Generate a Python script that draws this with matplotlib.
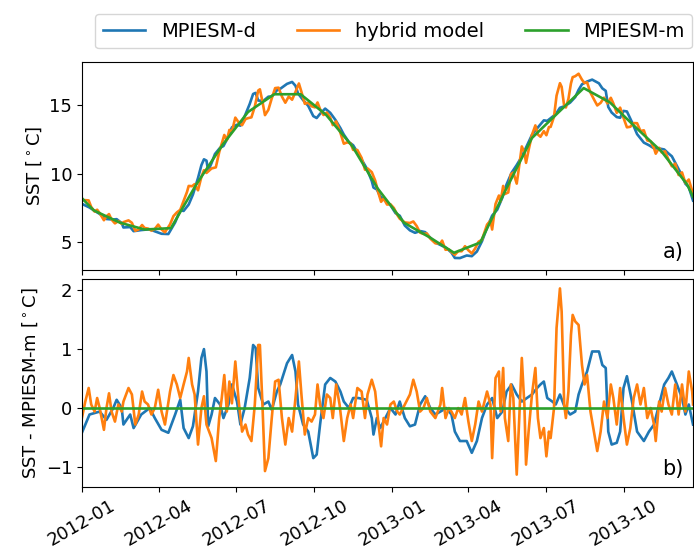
import matplotlib
matplotlib.use("Agg")
import matplotlib.pyplot as plt
import matplotlib.dates as mdates
import numpy as np

# days counted from 2012-01-01
start = np.datetime64("2012-01-01")

# MPIESM-m: monthly values (knots of the green line)
green_dates = ["2012-01-01", "2012-01-15", "2012-02-15", "2012-03-15", "2012-04-15",
               "2012-05-15", "2012-06-15", "2012-07-15", "2012-08-15", "2012-09-15",
               "2012-10-15", "2012-11-15", "2012-12-15", "2013-01-15", "2013-02-15",
               "2013-03-15", "2013-04-15", "2013-05-15", "2013-06-15", "2013-07-15",
               "2013-08-15", "2013-09-15", "2013-10-15", "2013-11-15", "2013-12-15",
               "2013-12-22"]
green_sst = [8.2, 7.3, 6.4, 5.9, 6.0, 9.2, 12.1, 14.5, 15.8, 15.8, 14.3, 12.0, 8.9,
             6.4, 5.3, 4.2, 4.95, 8.8, 12.6, 14.4, 16.25, 15.2, 13.4, 11.6, 9.2, 8.3]

# MPIESM-d
blue_days = [0, 9, 21, 29, 37, 41, 47, 49, 57, 61, 70, 80, 86, 94, 102, 110, 116, 120,
             126, 131, 137, 141, 144, 147, 149, 153, 157, 163, 167, 173, 177, 183, 187,
             192, 198, 202, 205, 208, 214, 220, 224, 230, 234, 242, 248, 252, 255, 261,
             267, 273, 277, 281, 287, 293, 299, 305, 309, 315, 320, 326, 336, 342, 344,
             348, 352, 358, 364, 370, 375, 381, 387, 393, 399, 405, 411, 417, 423, 430,
             436, 440, 446, 454, 460, 466, 472, 478, 484, 490, 496, 501, 507, 513, 519,
             525, 531, 537, 541, 545, 549, 555, 559, 564, 570, 576, 582, 586, 590, 596,
             602, 610, 614, 618, 621, 625, 631, 635, 639, 643, 649, 655, 663, 669, 675,
             681, 687, 692, 696, 702, 708, 712, 716, 721]
blue_sst = [7.78, 7.51, 7.04, 6.67, 6.63, 6.66, 6.37, 6.05, 6.08, 5.78, 5.86, 5.92, 5.77,
            5.59, 5.57, 6.42, 7.31, 7.26, 7.73, 8.46, 9.67, 10.61, 11.04, 10.94, 10.20,
            10.77, 11.43, 11.88, 12.01, 12.72, 13.38, 13.57, 13.50, 14.18, 15.09, 15.82,
            15.90, 15.34, 15.31, 15.62, 15.64, 16.08, 16.20, 16.56, 16.70, 16.42, 15.86,
            15.37, 14.95, 14.20, 14.06, 14.37, 14.75, 14.44, 13.93, 13.32, 12.85, 12.30,
            12.07, 11.45, 10.38, 9.45, 8.97, 8.83, 8.32, 8.00, 7.69, 7.10, 6.91, 6.19,
            5.84, 5.66, 5.79, 5.71, 5.30, 4.95, 4.77, 4.55, 4.21, 3.82, 3.81, 4.00, 3.95,
            4.29, 5.04, 6.04, 6.92, 7.35, 8.23, 9.20, 10.06, 10.62, 11.24, 12.03, 12.83,
            13.30, 13.60, 13.89, 13.85, 14.15, 14.34, 14.81, 14.94, 15.19, 15.59, 16.12,
            16.53, 16.73, 16.87, 16.60, 16.23, 16.05, 14.87, 14.46, 14.13, 14.08, 14.58,
            14.54, 13.75, 12.88, 12.26, 12.07, 11.84, 11.83, 11.76, 11.47, 11.26, 10.56,
            9.85, 9.25, 9.00, 8.02]
blue_anom = [-0.42, -0.11, -0.06, -0.20, 0.00, 0.14, 0.00, -0.28, -0.11, -0.34, -0.11,
             0.00, -0.17, -0.37, -0.42, -0.11, 0.14, -0.34, -0.51, -0.31, 0.28, 0.85, 1.00,
             0.62, -0.31, -0.11, 0.17, 0.06, -0.17, 0.06, 0.40, 0.11, -0.28, 0.00, 0.51,
             1.07, 1.02, 0.34, 0.06, 0.11, -0.03, 0.28, 0.40, 0.76, 0.90, 0.62, 0.06,
             -0.28, -0.40, -0.85, -0.79, -0.28, 0.40, 0.51, 0.45, 0.28, 0.11, 0.00, 0.17,
             0.17, 0.14, -0.17, -0.45, -0.17, -0.34, -0.17, 0.00, -0.11, 0.11, -0.17,
             -0.31, -0.28, 0.06, 0.20, 0.00, -0.11, -0.06, 0.00, -0.11, -0.40, -0.56,
             -0.56, -0.76, -0.56, -0.17, 0.06, 0.17, -0.17, -0.06, 0.28, 0.40, 0.23, 0.11,
             0.17, 0.23, 0.34, 0.40, 0.45, 0.17, 0.11, 0.06, 0.23, 0.00, -0.11, -0.06,
             0.23, 0.40, 0.62, 0.96, 0.96, 0.73, 0.68, -0.40, -0.62, -0.59, -0.40, 0.34,
             0.54, 0.11, -0.40, -0.56, -0.40, -0.28, 0.06, 0.40, 0.51, 0.62, 0.40, 0.17,
             -0.11, 0.06, -0.28]

# hybrid model
orange_days = [0, 4, 8, 11, 15, 18, 21, 26, 29, 32, 35, 39, 43, 47, 49, 55, 59, 63, 67,
               71, 74, 78, 82, 86, 90, 94, 98, 104, 108, 112, 116, 120, 124, 126, 130,
               133, 137, 141, 144, 147, 153, 158, 162, 165, 168, 171, 174, 177, 181, 185,
               189, 193, 196, 200, 204, 208, 210, 213, 216, 220, 224, 228, 232, 236, 240,
               244, 248, 252, 256, 259, 263, 267, 271, 275, 278, 281, 285, 289, 293, 296,
               300, 304, 309, 313, 317, 320, 325, 330, 334, 337, 342, 346, 350, 353, 356,
               360, 364, 368, 372, 375, 381, 387, 391, 395, 399, 403, 407, 411, 417, 423,
               425, 429, 433, 436, 440, 444, 448, 452, 456, 460, 464, 468, 472, 478, 482,
               484, 488, 492, 494, 497, 499, 503, 506, 509, 513, 516, 519, 522, 524, 527,
               531, 535, 538, 541, 545, 548, 551, 553, 557, 560, 564, 566, 569, 571, 574,
               577, 579, 582, 586, 590, 593, 596, 600, 604, 608, 612, 616, 620, 624, 627,
               631, 635, 639, 643, 647, 651, 655, 659, 663, 667, 671, 675, 677, 681, 684,
               688, 692, 696, 700, 704, 708, 712, 716, 720, 721]
orange_sst = [8.03, 8.05, 8.03, 7.55, 7.21, 7.35, 7.10, 6.58, 6.87, 7.03, 6.63, 6.35, 6.52,
              6.31, 6.44, 6.57, 6.39, 5.81, 5.91, 6.23, 6.01, 5.97, 5.82, 5.94, 6.26, 5.90,
              5.70, 6.28, 6.88, 7.15, 7.34, 8.00, 8.65, 9.09, 9.07, 9.22, 8.77, 9.76, 10.24,
              10.04, 10.37, 10.45, 11.56, 12.18, 12.82, 12.44, 13.19, 13.06, 14.09, 13.73,
              13.54, 13.98, 14.05, 14.11, 14.90, 16.07, 16.16, 15.27, 14.27, 14.66, 15.50,
              16.25, 16.28, 15.63, 15.18, 15.63, 15.40, 15.97, 16.59, 15.98, 15.10, 15.18,
              14.92, 14.84, 15.20, 14.71, 14.28, 14.46, 14.10, 13.54, 13.81, 13.17, 12.18,
              12.28, 12.21, 11.73, 11.72, 11.14, 10.28, 10.37, 10.10, 9.49, 8.54, 7.93,
              8.17, 7.73, 7.75, 7.48, 6.98, 6.69, 6.42, 6.38, 6.49, 6.15, 5.67, 5.58, 5.61,
              5.24, 4.89, 4.89, 5.09, 4.42, 4.44, 4.26, 4.05, 4.32, 4.31, 4.68, 4.38, 4.15,
              4.52, 5.01, 5.15, 6.26, 6.55, 5.90, 7.77, 8.39, 7.97, 9.09, 8.50, 8.61, 9.94,
              10.07, 9.26, 10.59, 11.98, 11.56, 10.78, 11.71, 12.83, 13.52, 12.85, 12.69,
              13.10, 12.80, 13.40, 13.41, 14.16, 15.70, 16.61, 16.34, 14.94, 14.83, 15.46,
              16.60, 17.05, 17.12, 17.30, 16.86, 16.62, 16.67, 15.92, 15.44, 14.98, 15.17,
              15.55, 15.13, 15.54, 15.13, 14.44, 14.82, 14.07, 13.38, 13.42, 13.69, 13.68,
              13.11, 13.16, 12.42, 12.35, 11.84, 11.45, 11.88, 11.54, 11.62, 11.02, 10.53,
              10.72, 9.89, 10.08, 9.30, 9.56, 8.71, 8.36]
orange_anom = [-0.17, 0.11, 0.34, 0.06, -0.06, 0.17, 0.00, -0.37, 0.00, 0.25, -0.06, -0.23,
               0.06, -0.06, 0.11, 0.34, 0.23, -0.28, -0.11, 0.28, 0.11, 0.06, -0.11, 0.00,
               0.31, -0.06, -0.28, 0.28, 0.56, 0.40, 0.17, 0.40, 0.62, 0.85, 0.40, 0.23,
               -0.62, 0.00, 0.20, -0.28, -0.51, -0.90, -0.17, 0.17, 0.56, -0.06, 0.45, 0.08,
               0.79, 0.11, -0.40, -0.28, -0.45, -0.56, 0.06, 1.07, 1.07, 0.06, -1.07, -0.85,
               -0.17, 0.45, 0.48, -0.17, -0.62, -0.17, -0.40, 0.17, 0.79, 0.23, -0.45, -0.17,
               -0.23, -0.11, 0.40, 0.06, -0.17, 0.23, 0.17, -0.17, 0.40, 0.06, -0.56, -0.17,
               0.06, -0.17, 0.34, 0.28, -0.17, 0.23, 0.48, 0.28, -0.28, -0.65, -0.17, -0.28,
               0.06, 0.11, -0.06, -0.11, 0.06, 0.23, 0.48, 0.28, -0.06, 0.00, 0.17, -0.06,
               -0.17, 0.06, 0.34, -0.17, 0.00, -0.06, -0.17, 0.00, -0.11, 0.17, -0.23, -0.56,
               -0.28, 0.11, -0.06, 0.28, 0.06, -0.85, 0.51, 0.62, -0.06, 0.68, -0.17, -0.56,
               0.40, 0.17, -1.13, -0.17, 0.85, 0.06, -0.96, -0.40, 0.23, 0.68, -0.17, -0.51,
               -0.34, -0.82, -0.40, -0.51, 0.00, 1.36, 2.03, 1.64, 0.06, -0.17, 0.28, 1.24,
               1.58, 1.47, 1.41, 0.73, 0.40, 0.56, -0.06, -0.40, -0.73, -0.40, 0.11, -0.17,
               0.40, 0.17, -0.28, 0.34, -0.17, -0.62, -0.34, 0.17, 0.40, 0.06, 0.34, -0.17,
               0.00, -0.28, -0.56, 0.11, -0.06, 0.34, 0.06, -0.11, 0.40, -0.11, 0.40, -0.06,
               0.62, 0.28, 0.06]

# MPIESM-m minus itself
zero_dates = ["2012-01-01", "2013-12-22"]
zero_vals = [0.0, 0.0]


def to_dates(days):
    return start + np.array(days).astype("timedelta64[D]")


def main():
    plt.rcParams["font.size"] = 13
    fig = plt.figure(figsize=(6.94, 5.57), dpi=100)
    ax1 = fig.add_axes([0.118, 0.5153, 0.8806, 0.3734])
    ax2 = fig.add_axes([0.118, 0.1257, 0.8806, 0.3734], sharex=ax1)

    gd = np.array(green_dates, dtype="datetime64[D]")
    zd = np.array(zero_dates, dtype="datetime64[D]")

    # upper panel
    ax1.plot(to_dates(blue_days), blue_sst, color="tab:blue", lw=1.9, label="MPIESM-d")
    ax1.plot(to_dates(orange_days), orange_sst, color="tab:orange", lw=1.9, label="hybrid model")
    ax1.plot(gd, green_sst, color="tab:green", lw=1.9, label="MPIESM-m")
    ax1.set_ylim(2.94, 18.16)
    ax1.set_yticks([5, 10, 15])
    ax1.set_ylabel(r"SST [$^\circ$C]")
    ax1.text(0.985, 0.04, "a)", transform=ax1.transAxes, ha="right", va="bottom", fontsize=15)
    ax1.tick_params(labelbottom=False)
    ax1.legend(loc="lower center", bbox_to_anchor=(0.51, 1.065), ncol=3,
               fontsize=14, handlelength=2.2, columnspacing=2.1, borderaxespad=0.)

    # lower panel
    ax2.plot(to_dates(blue_days), blue_anom, color="tab:blue", lw=1.9)
    ax2.plot(to_dates(orange_days), orange_anom, color="tab:orange", lw=1.9)
    ax2.plot(zd, zero_vals, color="tab:green", lw=1.9)
    ax2.set_ylim(-1.34, 2.19)
    ax2.set_yticks([-1, 0, 1, 2])
    ax2.set_ylabel(r"SST - MPIESM-m [$^\circ$C]")
    ax2.text(0.985, 0.04, "b)", transform=ax2.transAxes, ha="right", va="bottom", fontsize=15)

    ax2.set_xlim(np.datetime64("2012-01-01"), np.datetime64("2013-12-22"))
    ax2.xaxis.set_major_locator(mdates.MonthLocator(bymonth=[1, 4, 7, 10]))
    ax2.xaxis.set_major_formatter(mdates.DateFormatter("%Y-%m"))
    for lab in ax2.get_xticklabels():
        lab.set_rotation(30)
        lab.set_ha("center")

    fig.savefig("out.png", dpi=100)


if __name__ == "__main__":
    main()
